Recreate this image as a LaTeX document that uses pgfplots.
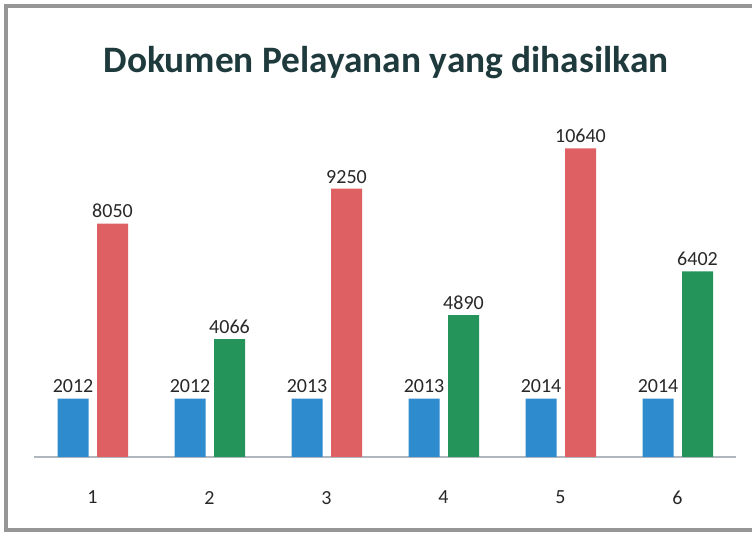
\documentclass[border=0pt]{standalone}
\usepackage{pgfplots}
\pgfplotsset{compat=1.18}
\usepackage{fontspec}
\setmainfont{Carlito}
\definecolor{cblue}{RGB}{46,140,206}
\definecolor{cred}{RGB}{222,96,98}
\definecolor{cgreen}{RGB}{36,148,90}
\definecolor{ctitle}{RGB}{30,58,60}
\definecolor{ctext}{RGB}{40,40,40}
\definecolor{cframe}{RGB}{150,150,150}
\definecolor{caxis}{RGB}{175,182,190}
\begin{document}
\begin{tikzpicture}
\useasboundingbox (0,0) rectangle (564pt,400.5pt);
\fill[white] (0,0) rectangle (564pt,400.5pt);
\draw[cframe, line width=3pt] (564pt,396pt) -- (4.5pt,396pt) -- (4.5pt,3pt) -- (564pt,3pt);
\node[anchor=base, text=ctitle, font=\fontsize{28}{28}\selectfont\bfseries] at (289.5pt,345.75pt) {Dokumen Pelayanan yang dihasilkan};
\begin{axis}[
  at={(25.5pt,57.75pt)}, anchor=south west,
  scale only axis, width=526.5pt, height=261pt,
  xmin=0.5, xmax=6.5, ymin=0, ymax=12000,
  axis y line=none, axis x line=bottom,
  x axis line style={-, draw=caxis, line width=0.8pt},
  xtick={1,...,6}, major tick length=0pt,
  xticklabel style={text=ctext, font=\fontsize{15}{15}\selectfont, yshift=-22pt},
  /pgf/number format/1000 sep={},
  /pgf/number format/assume math mode=true,
  ybar, bar width=23.25pt,
  nodes near coords,
  nodes near coords style={text=ctext, font=\fontsize{15}{15}\selectfont, inner sep=4pt},
  clip=false,
]
\addplot[fill=cblue, draw=none, bar shift=-14.6pt] coordinates {(1,2012)(2,2012)(3,2013)(4,2013)(5,2014)(6,2014)};
\addplot[fill=cred, draw=none, bar shift=15pt] coordinates {(1,8050)(3,9250)(5,10640)};
\addplot[fill=cgreen, draw=none, bar shift=15pt] coordinates {(2,4066)(4,4890)(6,6402)};
\end{axis}
\end{tikzpicture}
\end{document}
